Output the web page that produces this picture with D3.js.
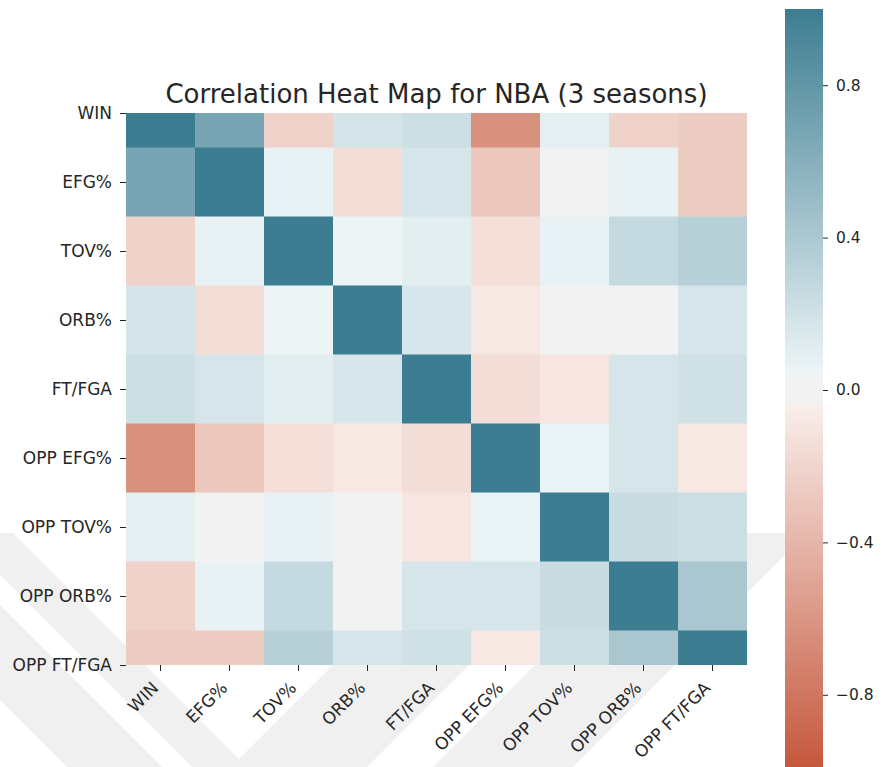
<!DOCTYPE html>
<html>
<head>
<meta charset="utf-8">
<script src="https://cdn.jsdelivr.net/npm/d3@7"></script>
<style>
  body { margin: 0; background: #fff; }
  text { font-family: "DejaVu Sans", sans-serif; fill: #262626; }
</style>
</head>
<body>
<div id="chart"></div>
<script>
// variables (same order on both axes)
const labels = ['WIN', 'EFG%', 'TOV%', 'ORB%', 'FT/FGA', 'OPP EFG%', 'OPP TOV%', 'OPP ORB%', 'OPP FT/FGA']

// correlation rows
const winRow    = [ 1.00,  0.68, -0.22,  0.18,  0.22, -0.63,  0.09, -0.22, -0.26]
const efgRow    = [ 0.68,  1.00,  0.07, -0.15,  0.17, -0.29,  0.00,  0.07, -0.26]
const tovRow    = [-0.22,  0.07,  1.00,  0.05,  0.10, -0.14,  0.07,  0.26,  0.33]
const orbRow    = [ 0.18, -0.15,  0.05,  1.00,  0.16, -0.08,  0.01,  0.00,  0.17]
const ftRow     = [ 0.22,  0.17,  0.10,  0.16,  1.00, -0.15, -0.10,  0.17,  0.20]
const oppEfgRow = [-0.63, -0.29, -0.14, -0.08, -0.15,  1.00,  0.06,  0.17, -0.08]
const oppTovRow = [ 0.09,  0.00,  0.07,  0.01, -0.10,  0.06,  1.00,  0.24,  0.22]
const oppOrbRow = [-0.22,  0.07,  0.26,  0.00,  0.17,  0.17,  0.24,  1.00,  0.41]
const oppFtRow  = [-0.26, -0.26,  0.33,  0.17,  0.20, -0.08,  0.22,  0.41,  1.00]

const matrix = [winRow, efgRow, tovRow, orbRow, ftRow, oppEfgRow, oppTovRow, oppOrbRow, oppFtRow]

const cbTicks = [-0.8, -0.4, 0.0, 0.4, 0.8]
const title = 'Correlation Heat Map for NBA (3 seasons)'

// seaborn style diverging map (red -> light gray -> teal)
const cmapStops = [-1, -0.043, -0.035, 0.035, 0.043, 1]
const cmapColors = ['#c5563b', '#f9eeeb', '#f2f2f2', '#f2f2f2', '#edf5f7', '#3d7d91']
const color = d3.scaleLinear().domain(cmapStops).range(cmapColors).interpolate(d3.interpolateRgb).clamp(true)

const W = 882, H = 767
const svg = d3.select('#chart').append('svg').attr('width', W).attr('height', H)

// faint watermark bands in the background
const wm = svg.append('g')
svg.append('clipPath').attr('id', 'wmclip').append('rect')
  .attr('x', 0).attr('y', 533).attr('width', W).attr('height', H - 533)
wm.attr('clip-path', 'url(#wmclip)')
const bands = [
  [[-50, 470], [400, 920], [400, 975], [-50, 525]],
  [[-50, 555], [300, 905], [300, 1000], [-50, 650]],
  [[150, 848], [700, 298], [836, 298], [286, 848]],
  [[350, 850], [900, 300], [1040, 300], [490, 850]]
]
wm.selectAll('polygon').data(bands).enter().append('polygon')
  .attr('points', d => d.map(p => p.join(',')).join(' '))
  .attr('fill', '#f0f0f0')

// heatmap geometry
const mLeft = 126, mRight = 747, mTop = 113, mBottom = 665
const x = d3.scaleBand().domain(d3.range(labels.length)).range([mLeft, mRight])
// matplotlib cut the first and last rows in half, so tick i sits on row centre
const y = d3.scaleLinear().domain([0, labels.length - 1]).range([mTop, mBottom])

svg.append('clipPath').attr('id', 'hmclip').append('rect')
  .attr('x', mLeft).attr('y', mTop).attr('width', mRight - mLeft).attr('height', mBottom - mTop)

const cells = []
matrix.forEach((row, i) => row.forEach((v, j) => cells.push({ i, j, v })))

svg.append('g').attr('clip-path', 'url(#hmclip)')
  .selectAll('rect').data(cells).enter().append('rect')
  .attr('x', d => x(d.j))
  .attr('y', d => y(d.i - 0.5))
  .attr('width', x.bandwidth() + 0.5)
  .attr('height', y(1) - y(0) + 0.5)
  .attr('fill', d => color(d.v))

// y axis
const yAxis = svg.append('g').attr('transform', 'translate(' + mLeft + ',0)')
  .call(d3.axisLeft(y).tickValues(d3.range(labels.length)).tickFormat(i => labels[i]).tickSize(6).tickPadding(8))
yAxis.select('.domain').remove()
yAxis.selectAll('line').attr('stroke', '#262626')
yAxis.selectAll('text').style('font-size', '17px').attr('fill', '#262626')

// x axis with rotated labels
const xAxis = svg.append('g').attr('transform', 'translate(0,' + mBottom + ')')
  .call(d3.axisBottom(x).tickFormat(i => labels[i]).tickSize(6))
xAxis.select('.domain').remove()
xAxis.selectAll('line').attr('stroke', '#262626')
xAxis.selectAll('text')
  .style('font-size', '17px').attr('fill', '#262626')
  .attr('x', 0).attr('y', 0).attr('dy', 0)
  .attr('text-anchor', 'end')
  .attr('transform', 'translate(-1,24) rotate(-45)')

// title
svg.append('text')
  .attr('x', (mLeft + mRight) / 2).attr('y', 103)
  .attr('text-anchor', 'middle')
  .style('font-size', '26px')
  .text(title)

// colorbar
const cbX = 785, cbW = 38
const cb = d3.scaleLinear().domain([-1, 1]).range([771, 9])
const grad = svg.append('defs').append('linearGradient')
  .attr('id', 'cbgrad').attr('x1', 0).attr('x2', 0).attr('y1', 0).attr('y2', 1)
grad.selectAll('stop').data(cmapStops.slice().reverse()).enter().append('stop')
  .attr('offset', d => (1 - d) / 2)
  .attr('stop-color', d => color(d))
svg.append('rect')
  .attr('x', cbX).attr('y', cb(1)).attr('width', cbW).attr('height', cb(-1) - cb(1))
  .attr('fill', 'url(#cbgrad)')

const cbAxis = svg.append('g').attr('transform', 'translate(' + (cbX + cbW) + ',0)')
  .call(d3.axisRight(cb).tickValues(cbTicks).tickFormat(d3.format('.1f')).tickSize(5).tickPadding(8))
cbAxis.select('.domain').remove()
cbAxis.selectAll('line').attr('stroke', '#262626')
cbAxis.selectAll('text').style('font-size', '15.5px').attr('fill', '#262626')
</script>
</body>
</html>
